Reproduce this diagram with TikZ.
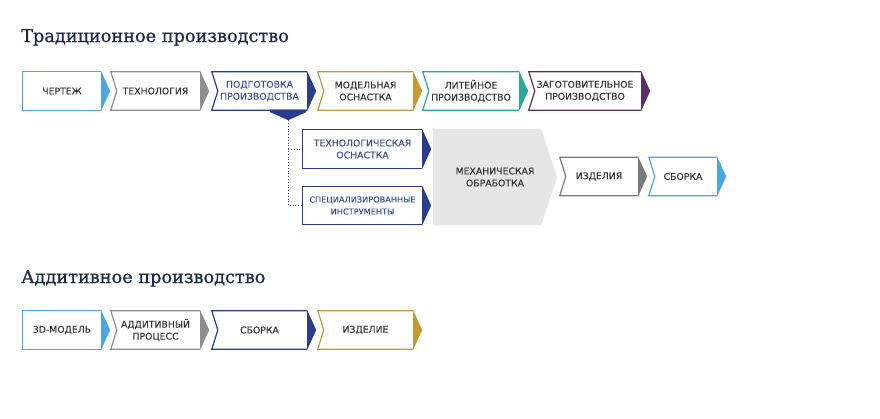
\documentclass[tikz,border=0pt]{standalone}
\usepackage{fontspec}
\setmainfont{DejaVu Sans}[FakeBold=0.2]
\newfontfamily\titlefont{DejaVu Serif}[FakeBold=0.9]
\usetikzlibrary{calc,backgrounds}
\definecolor{cLblue}{HTML}{4BA7DD}
\definecolor{cGray}{HTML}{8E8E8E}
\definecolor{cDgray}{HTML}{7A7A7A}
\definecolor{cNavy}{HTML}{2A3D8D}
\definecolor{cGold}{HTML}{C29A38}
\definecolor{cTeal}{HTML}{2BA89B}
\definecolor{cPurple}{HTML}{5C2D6B}
\definecolor{cMech}{HTML}{E6E6E6}
\definecolor{cText}{HTML}{353535}
\definecolor{cBtext}{HTML}{3F528F}
\definecolor{cTitle}{HTML}{1E2A4A}
\newcommand\stagedeco[3]{%
  \draw[#2, line width=1.2pt, line join=miter] (#1.north east) -- (#1.north west) -- ($(#1.west)+(#3,0)$) -- (#1.south west) -- (#1.south east);
  \fill[#2] ($(#1.north east)+(0,-0.6)$) -- ($(#1.east)+(9,0)$) -- ($(#1.south east)+(0,0.6)$) -- cycle;
}
\begin{document}
\begin{tikzpicture}[x=1pt,y=-1pt,
  stagebox/.style={minimum height=38pt, inner sep=0pt, align=center, text=cText,
     font=\fontsize{9.3}{12}\selectfont},
  titletext/.style={anchor=base west, inner sep=0pt, text=cTitle, font=\titlefont\fontsize{17.7}{20}\selectfont}]
\begin{pgfonlayer}{background}
\fill[white] (0,0) rectangle (880,418);
\end{pgfonlayer}
\useasboundingbox (0,0) rectangle (880,418);

\node[titletext] (title1) at (21,42) {Традиционное производство};
\node[titletext] (title2) at (21,283) {Аддитивное производство};

% row 1
\node[stagebox, minimum width=78pt] (b1) at (62,91) {ЧЕРТЕЖ};
\node[stagebox, minimum width=89pt] (b2) at (155.5,91) {ТЕХНОЛОГИЯ};
\node[stagebox, minimum width=95pt, text=cBtext] (b3) at (259.5,91) {ПОДГОТОВКА\\ПРОИЗВОДСТВА};
\node[stagebox, minimum width=95pt] (b4) at (365.5,91) {МОДЕЛЬНАЯ\\ОСНАСТКА};
\node[stagebox, minimum width=96pt] (b5) at (471,91) {ЛИТЕЙНОЕ\\ПРОИЗВОДСТВО};
\node[stagebox, minimum width=112pt] (b6) at (585,91) {ЗАГОТОВИТЕЛЬНОЕ\\ПРОИЗВОДСТВО};
\stagedeco{b1}{cLblue}{0}
\stagedeco{b2}{cGray}{6}
\stagedeco{b3}{cNavy}{6}
\stagedeco{b4}{cGold}{6}
\stagedeco{b5}{cTeal}{6}
\stagedeco{b6}{cPurple}{6}

% pointer under b3
\coordinate (ptr) at ($(b3.south east)+(-19,10)$);
\fill[cNavy] ($(ptr)+(-18,-10.6)$) -- ($(ptr)+(18,-10.6)$) -- ($(ptr)+(18,-8)$) -- (ptr) -- ($(ptr)+(-18,-8)$) -- cycle;

% row 2
\node[stagebox, minimum width=119pt, text=cBtext] (t1) at (362.5,149) {ТЕХНОЛОГИЧЕСКАЯ\\ОСНАСТКА};
\node[stagebox, minimum width=119pt, text=cBtext, font=\fontsize{8.2}{12}\selectfont] (t2) at (362.5,205.5) {СПЕЦИАЛИЗИРОВАННЫЕ\\ИНСТРУМЕНТЫ};
\stagedeco{t1}{cNavy}{0}
\stagedeco{t2}{cNavy}{0}
\draw[cNavy, dotted, line width=0.8pt] (ptr) |- (t2.west);
\draw[cNavy, dotted, line width=0.8pt] (ptr |- t1.west) -- (t1.west);

\node[stagebox, minimum width=124pt, minimum height=96pt] (mech) at (495,177) {МЕХАНИЧЕСКАЯ\\ОБРАБОТКА};
\begin{pgfonlayer}{background}
\fill[cMech] (mech.north west) -- ($(mech.north east)+(-16,0)$) -- (mech.east) -- ($(mech.south east)+(-16,0)$) -- (mech.south west) -- cycle;
\end{pgfonlayer}

\node[stagebox, minimum width=78pt] (i1) at (599,176.5) {ИЗДЕЛИЯ};
\node[stagebox, minimum width=68pt] (s1) at (683,176.5) {СБОРКА};
\stagedeco{i1}{cDgray}{6}
\stagedeco{s1}{cLblue}{6}

% row 3
\node[stagebox, minimum width=78pt] (a1) at (62,330) {3D-МОДЕЛЬ};
\node[stagebox, minimum width=89pt] (a2) at (155.5,330) {АДДИТИВНЫЙ\\ПРОЦЕСС};
\node[stagebox, minimum width=95pt] (a3) at (259.5,330) {СБОРКА};
\node[stagebox, minimum width=95pt] (a4) at (365.5,330) {ИЗДЕЛИЕ};
\stagedeco{a1}{cLblue}{0}
\stagedeco{a2}{cGray}{6}
\stagedeco{a3}{cNavy}{6}
\stagedeco{a4}{cGold}{6}
\end{tikzpicture}
\end{document}
